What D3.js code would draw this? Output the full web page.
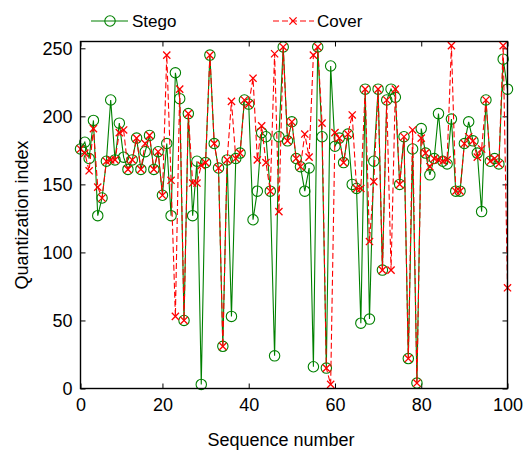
<!DOCTYPE html>
<html>
<head>
<meta charset="utf-8">
<script src="https://cdn.jsdelivr.net/npm/d3@7"></script>
<style>
  html, body { margin: 0; padding: 0; background: #fff; }
  svg { display: block; }
  text { font-family: "Liberation Sans", Arial, Helvetica, sans-serif; fill: #000; }
</style>
</head>
<body>
<svg id="chart" width="527" height="451"></svg>
<script>
// Quantization index of samples 1..100
const stego = [176,181,169,197,127,140,167,212,168,195,
               170,161,168,184,161,174,186,161,174,142,
               180,127,232,213,50,202,127,167,3,166,
               245,180,162,31,168,53,169,173,212,209,
               124,145,188,185,145,24,185,251,182,196,
               169,163,145,162,16,251,185,15,237,178,
               184,166,187,150,147,48,220,51,167,220,
               87,212,220,214,150,185,22,176,4,191,
               173,157,169,202,167,165,198,145,145,180,
               196,182,173,130,212,167,169,165,242,220];
const cover = [176,173,160,191,148,140,167,168,168,188,
               190,161,168,184,161,180,186,161,174,142,
               245,153,53,220,50,202,151,151,164,166,
               245,180,162,31,168,211,169,173,212,209,
               228,168,193,166,145,246,130,251,182,196,
               169,163,187,170,245,251,195,15,3,188,
               184,166,187,201,147,147,220,108,152,220,
               87,212,87,220,150,185,22,190,4,184,
               173,163,169,168,167,168,252,145,145,180,
               185,182,170,176,212,167,169,165,252,74];
// x ticks: the first one sits on the left edge of the axis (sample 1)
const xTickPos = [1, 20, 40, 60, 80, 100];
const xTickLabels = ["0", "20", "40", "60", "80", "100"];
const yTicks = [0, 50, 100, 150, 200, 250];
const seriesNames = ["Stego", "Cover"];

const seq = d3.range(1, stego.length + 1);   // sequence numbers 1..100

const svg = d3.select("#chart");
const plotLeft = 80.5, plotTop = 41.5, plotW = 427, plotH = 347;

const x = d3.scaleLinear().domain([1, 100]).range([plotLeft, plotLeft + plotW]);
const y = d3.scaleLinear().domain([0, 255]).range([plotTop + plotH, plotTop]);

const green = "#008000", red = "#ff0000";
const tickLen = 5;

// Ticks pointing inward on all four sides
const g = svg.append("g");
const axB = d3.axisBottom(x).tickValues(xTickPos)
  .tickFormat((d, i) => xTickLabels[i])
  .tickSizeInner(-tickLen).tickSizeOuter(0).tickPadding(10);
const axT = d3.axisTop(x).tickValues(xTickPos).tickSizeInner(-tickLen).tickSizeOuter(0).tickFormat("");
const axL = d3.axisLeft(y).tickValues(yTicks).tickSizeInner(-tickLen).tickSizeOuter(0).tickPadding(8);
const axR = d3.axisRight(y).tickValues(yTicks).tickSizeInner(-tickLen).tickSizeOuter(0).tickFormat("");

g.append("g").attr("transform", `translate(0,${plotTop + plotH})`).call(axB);
g.append("g").attr("transform", `translate(0,${plotTop})`).call(axT);
g.append("g").attr("transform", `translate(${plotLeft},0)`).call(axL);
g.append("g").attr("transform", `translate(${plotLeft + plotW},0)`).call(axR);
g.selectAll(".domain").remove();
g.selectAll(".tick line").attr("stroke", "#000").attr("stroke-width", 1);
g.selectAll(".tick text").style("font-size", "18px").attr("fill", "#000");

// Series
const idx = d3.range(stego.length);
const line = arr => d3.line().x(i => x(seq[i])).y(i => y(arr[i]))(idx);

const plot = svg.append("g");
plot.append("path").attr("d", line(stego))
  .attr("fill", "none").attr("stroke", green).attr("stroke-width", 1.1);
plot.selectAll("circle.st").data(idx).join("circle").attr("class", "st")
  .attr("cx", i => x(seq[i])).attr("cy", i => y(stego[i])).attr("r", 5.2)
  .attr("fill", "none").attr("stroke", green).attr("stroke-width", 1.1);

plot.append("path").attr("d", line(cover))
  .attr("fill", "none").attr("stroke", red).attr("stroke-width", 1.1)
  .attr("stroke-dasharray", "6,3");
const xs = 3.6;
const crossPath = (cx, cy) =>
  `M${cx - xs},${cy - xs}L${cx + xs},${cy + xs}M${cx - xs},${cy + xs}L${cx + xs},${cy - xs}`;
plot.selectAll("path.cv").data(idx).join("path").attr("class", "cv")
  .attr("d", i => crossPath(x(seq[i]), y(cover[i])))
  .attr("stroke", red).attr("stroke-width", 1.3).attr("fill", "none");

// Axes box
svg.append("rect").attr("x", plotLeft).attr("y", plotTop)
  .attr("width", plotW).attr("height", plotH)
  .attr("fill", "none").attr("stroke", "#000").attr("stroke-width", 1.4);

// Axis titles
svg.append("text").attr("x", 281).attr("y", 446).attr("text-anchor", "middle")
  .style("font-size", "18px").text("Sequence number");
svg.append("text").attr("transform", `translate(28,${y(127.5)}) rotate(-90)`)
  .attr("text-anchor", "middle").style("font-size", "18px").text("Quantization index");

// Legend
const leg = svg.append("g");
leg.append("line").attr("x1", 91).attr("x2", 128).attr("y1", 21).attr("y2", 21)
  .attr("stroke", green).attr("stroke-width", 1.1);
leg.append("circle").attr("cx", 110).attr("cy", 21).attr("r", 5.2)
  .attr("fill", "none").attr("stroke", green).attr("stroke-width", 1.1);
leg.append("text").attr("x", 132).attr("y", 27).style("font-size", "17px").text(seriesNames[0]);
leg.append("line").attr("x1", 273).attr("x2", 314).attr("y1", 21).attr("y2", 21)
  .attr("stroke", red).attr("stroke-width", 1.1).attr("stroke-dasharray", "6,3");
leg.append("path").attr("d", crossPath(293, 21))
  .attr("stroke", red).attr("stroke-width", 1.3).attr("fill", "none");
leg.append("text").attr("x", 317).attr("y", 27).style("font-size", "17px").text(seriesNames[1]);
</script>
</body>
</html>
